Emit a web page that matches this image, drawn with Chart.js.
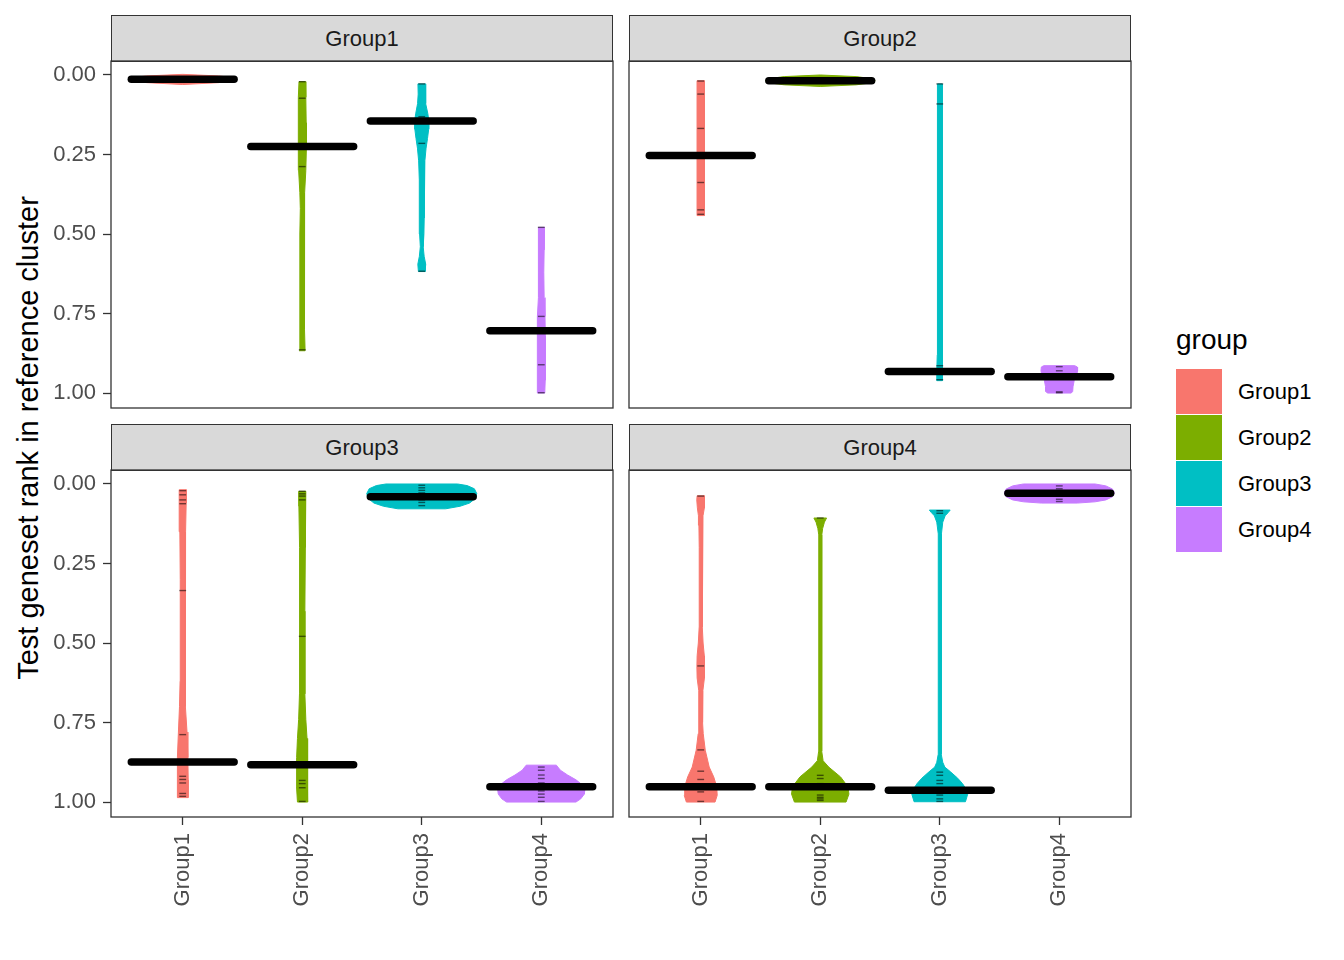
<!DOCTYPE html>
<html>
<head>
<meta charset="utf-8">
<script src="https://cdn.jsdelivr.net/npm/chart.js@4.4.1/dist/chart.umd.min.js"></script>
<style>
html,body{margin:0;padding:0;background:#fff;}
body{position:relative;width:1344px;height:960px;overflow:hidden;font-family:"Liberation Sans",Arial,Helvetica,sans-serif;}
canvas{position:absolute;}
.strip{position:absolute;box-sizing:border-box;background:#D9D9D9;border:1.3px solid #333;color:#1A1A1A;font-size:22px;display:flex;align-items:center;justify-content:center;}
.ytitle{position:absolute;left:28px;top:438px;transform:translate(-50%,-50%) rotate(-90deg);white-space:nowrap;font-size:29px;color:#000;}
.legtitle{position:absolute;left:1176px;top:325px;font-size:28px;line-height:30px;color:#000;}
.key{position:absolute;left:1176px;width:46px;height:45px;}
.keylab{position:absolute;left:1238px;font-size:22px;line-height:46px;height:46px;color:#000;}
</style>
</head>
<body>
<div class="strip" style="left:111px;top:15px;width:502px;height:47px;">Group1</div>
<div class="strip" style="left:629px;top:15px;width:502px;height:47px;">Group2</div>
<div class="strip" style="left:111px;top:424px;width:502px;height:47px;">Group3</div>
<div class="strip" style="left:629px;top:424px;width:502px;height:47px;">Group4</div>
<div class="ytitle">Test geneset rank in reference cluster</div>
<div class="legtitle">group</div>
<div id="legend"></div>
<canvas id="c1" width="638" height="397" style="left:0px;top:36px;"></canvas>
<canvas id="c2" width="552" height="397" style="left:604px;top:36px;"></canvas>
<canvas id="c3" width="638" height="507" style="left:0px;top:445px;"></canvas>
<canvas id="c4" width="552" height="507" style="left:604px;top:445px;"></canvas>
<script>
// ---------------- data ----------------
const groups = ['Group1', 'Group2', 'Group3', 'Group4'];
const groupColors = ['#F8766D', '#7CAE00', '#00BFC4', '#C77CFF'];
const yTickValues = [0, 0.25, 0.5, 0.75, 1];
const xTickValues = [1, 2, 3, 4];

// violin outlines: [rank, half-width in category units]
// facet Group1
const f1g1Outline = [[-0.002,0.0],[0.003,0.3],[0.008,0.42],[0.013,0.45],[0.018,0.42],[0.024,0.3],[0.03,0.0]];
const f1g2Outline = [[0.021,0.027],[0.07,0.03],[0.15,0.033],[0.225,0.035],[0.3,0.03],[0.37,0.02],[0.42,0.016],[0.5,0.019],[0.65,0.02],[0.8,0.021],[0.867,0.024]];
const f1g3Outline = [[0.028,0.032],[0.06,0.03],[0.09,0.035],[0.12,0.05],[0.145,0.06],[0.17,0.058],[0.2,0.048],[0.23,0.036],[0.27,0.026],[0.33,0.021],[0.45,0.02],[0.5,0.018],[0.54,0.012],[0.57,0.02],[0.595,0.033],[0.618,0.028]];
const f1g4Outline = [[0.479,0.027],[0.55,0.024],[0.62,0.021],[0.7,0.024],[0.76,0.031],[0.82,0.034],[0.9,0.034],[0.96,0.032],[1.0,0.029]];
// facet Group2
const f2g1Outline = [[0.018,0.03],[0.1,0.031],[0.2,0.031],[0.3,0.031],[0.4,0.031],[0.442,0.03]];
const f2g2Outline = [[0.0,0.0],[0.005,0.3],[0.011,0.42],[0.018,0.46],[0.025,0.42],[0.031,0.3],[0.036,0.0]];
const f2g3Outline = [[0.028,0.02],[0.1,0.02],[0.3,0.019],[0.5,0.019],[0.7,0.019],[0.88,0.021],[0.93,0.025],[0.961,0.024]];
const f2g4Outline = [[0.914,0.13],[0.918,0.15],[0.93,0.153],[0.945,0.145],[0.96,0.125],[0.98,0.115],[0.995,0.112],[1.0,0.1]];
// facet Group3
const f3g1Outline = [[0.018,0.03],[0.06,0.029],[0.15,0.024],[0.3,0.021],[0.5,0.02],[0.62,0.022],[0.7,0.027],[0.78,0.036],[0.86,0.043],[0.93,0.046],[0.986,0.045]];
const f3g2Outline = [[0.023,0.03],[0.07,0.028],[0.2,0.024],[0.4,0.022],[0.55,0.021],[0.66,0.023],[0.74,0.03],[0.8,0.04],[0.86,0.047],[0.95,0.048],[1.0,0.04]];
const f3g3Outline = [[0.0,0.3],[0.005,0.38],[0.015,0.44],[0.03,0.46],[0.045,0.45],[0.06,0.4],[0.07,0.32],[0.078,0.2]];
const f3g4Outline = [[0.884,0.126],[0.9,0.16],[0.915,0.22],[0.93,0.29],[0.945,0.34],[0.96,0.365],[0.975,0.36],[0.99,0.33],[1.0,0.29]];
// facet Group4
const f4g1Outline = [[0.037,0.03],[0.05,0.033],[0.075,0.028],[0.1,0.019],[0.13,0.015],[0.2,0.013],[0.3,0.012],[0.45,0.013],[0.5,0.02],[0.54,0.03],[0.575,0.032],[0.61,0.03],[0.65,0.018],[0.7,0.015],[0.75,0.016],[0.785,0.021],[0.837,0.038],[0.89,0.071],[0.921,0.109],[0.952,0.134],[0.979,0.138],[1.0,0.12]];
const f4g2Outline = [[0.107,0.053],[0.12,0.035],[0.14,0.02],[0.16,0.013],[0.3,0.012],[0.5,0.012],[0.7,0.012],[0.84,0.013],[0.87,0.024],[0.89,0.071],[0.921,0.17],[0.952,0.232],[0.975,0.24],[1.0,0.216]];
const f4g3Outline = [[0.082,0.087],[0.09,0.07],[0.1,0.045],[0.12,0.025],[0.157,0.014],[0.3,0.012],[0.5,0.012],[0.7,0.012],[0.85,0.013],[0.875,0.025],[0.89,0.042],[0.905,0.09],[0.925,0.15],[0.942,0.19],[0.96,0.222],[0.975,0.234],[0.999,0.215]];
const f4g4Outline = [[0.0,0.3],[0.006,0.39],[0.016,0.445],[0.028,0.46],[0.04,0.445],[0.05,0.39],[0.056,0.3],[0.06,0.15]];

// individual ranks (dash marks)
const f1g1Points = [0.013];
const f1g2Points = [0.021, 0.073, 0.225, 0.288, 0.864];
const f1g3Points = [0.028, 0.131, 0.145, 0.215, 0.617];
const f1g4Points = [0.479, 0.759, 0.804, 0.911, 0.999];
const f2g1Points = [0.019, 0.06, 0.168, 0.253, 0.338, 0.424, 0.438];
const f2g2Points = [0.018];
const f2g3Points = [0.028, 0.091, 0.914, 0.932, 0.958];
const f2g4Points = [0.917, 0.93, 0.949, 0.996, 0.999];
const f3g1Points = [0.021, 0.034, 0.05, 0.062, 0.335, 0.788, 0.874, 0.919, 0.929, 0.94, 0.973, 0.982];
const f3g2Points = [0.023, 0.031, 0.038, 0.05, 0.479, 0.883, 0.932, 0.942, 0.955, 0.998];
const f3g3Points = [0.004, 0.012, 0.02, 0.028, 0.04, 0.05, 0.058, 0.068];
const f3g4Points = [0.89, 0.9, 0.915, 0.926, 0.94, 0.952, 0.965, 0.975, 0.985, 0.998];
const f4g1Points = [0.038, 0.572, 0.836, 0.903, 0.929, 0.952, 0.968, 0.998];
const f4g2Points = [0.107, 0.916, 0.926, 0.942, 0.978, 0.985, 0.99, 0.995];
const f4g3Points = [0.084, 0.092, 0.906, 0.916, 0.932, 0.942, 0.963, 0.978, 0.99, 0.998];
const f4g4Points = [0.006, 0.015, 0.022, 0.029, 0.038, 0.048, 0.055];

// medians per facet (Group1..Group4 test genesets)
const f1Medians = [0.013, 0.225, 0.145, 0.804];
const f2Medians = [0.253, 0.018, 0.932, 0.949];
const f3Medians = [0.874, 0.883, 0.04, 0.952];
const f4Medians = [0.952, 0.952, 0.963, 0.029];

// ---------------- rendering ----------------
const FONT = '"Liberation Sans", Arial, Helvetica, sans-serif';
const facets = [
  {outlines: [f1g1Outline, f1g2Outline, f1g3Outline, f1g4Outline], points: [f1g1Points, f1g2Points, f1g3Points, f1g4Points], medians: f1Medians},
  {outlines: [f2g1Outline, f2g2Outline, f2g3Outline, f2g4Outline], points: [f2g1Points, f2g2Points, f2g3Points, f2g4Points], medians: f2Medians},
  {outlines: [f3g1Outline, f3g2Outline, f3g3Outline, f3g4Outline], points: [f3g1Points, f3g2Points, f3g3Points, f3g4Points], medians: f3Medians},
  {outlines: [f4g1Outline, f4g2Outline, f4g3Outline, f4g4Outline], points: [f4g1Points, f4g2Points, f4g3Points, f4g4Points], medians: f4Medians}
];

function buildDatasets(f) {
  const ds = [];
  f.outlines.forEach((ol, i) => {
    const c = xTickValues[i];
    const right = ol.map(([r, w]) => ({x: c + w, y: r}));
    const left = ol.slice().reverse().map(([r, w]) => ({x: c - w, y: r}));
    const poly = right.concat(left);
    poly.push(right[0]);
    ds.push({data: poly, showLine: true, fill: 'shape', backgroundColor: groupColors[i],
      borderColor: groupColors[i], borderWidth: 1, pointRadius: 0, tension: 0, order: 3});
  });
  f.points.forEach((pts, i) => {
    ds.push({data: pts.map(r => ({x: xTickValues[i], y: r})), showLine: false, fill: false,
      pointStyle: 'line', pointRadius: 3.4, pointBorderWidth: 1.4,
      pointBorderColor: 'rgba(0,0,0,0.55)', pointBackgroundColor: 'rgba(0,0,0,0)', order: 2});
  });
  f.medians.forEach((m, i) => {
    const c = xTickValues[i];
    ds.push({data: [{x: c - 0.43, y: m}, {x: c + 0.43, y: m}], showLine: true, fill: false,
      borderColor: '#000', borderWidth: 7.5, borderCapStyle: 'round', pointRadius: 0, order: 1});
  });
  return ds;
}

const panelBorder = {
  id: 'panelBorder',
  afterDatasetsDraw(chart) {
    const {ctx, chartArea: a} = chart;
    ctx.save();
    ctx.strokeStyle = '#333333';
    ctx.lineWidth = 1.3;
    ctx.strokeRect(a.left, a.top, a.right - a.left, a.bottom - a.top);
    ctx.restore();
  }
};

function makeChart(id, f, showX, showY) {
  const tickGrid = {drawOnChartArea: false, drawTicks: true, tickLength: 8, tickColor: '#333333', tickWidth: 1.3};
  new Chart(document.getElementById(id), {
    type: 'scatter',
    data: {datasets: buildDatasets(f)},
    plugins: [panelBorder],
    options: {
      responsive: false, animation: false, devicePixelRatio: 1, events: [],
      layout: {padding: 25},
      plugins: {legend: {display: false}, tooltip: {enabled: false}},
      scales: {
        x: {
          type: 'linear', position: 'bottom', min: 0.4, max: 4.6, display: showX,
          afterBuildTicks: s => { s.ticks = xTickValues.map(v => ({value: v})); },
          afterFit: s => { s.height = showX ? 110 : 0; },
          grid: tickGrid, border: {display: false},
          ticks: {autoSkip: false, minRotation: 90, maxRotation: 90, padding: 8, color: '#4D4D4D',
            font: {family: FONT, size: 22}, callback: v => groups[v - 1]}
        },
        y: {
          type: 'linear', position: 'left', reverse: true, min: -0.044, max: 1.047, display: showY,
          afterBuildTicks: s => { s.ticks = yTickValues.map(v => ({value: v})); },
          afterFit: s => { s.width = showY ? 86 : 0; },
          grid: tickGrid, border: {display: false},
          ticks: {padding: 7, color: '#4D4D4D', font: {family: FONT, size: 22}, callback: v => Number(v).toFixed(2)}
        }
      }
    }
  });
}

makeChart('c1', facets[0], false, true);
makeChart('c2', facets[1], false, false);
makeChart('c3', facets[2], true, true);
makeChart('c4', facets[3], true, false);

// legend
const leg = document.getElementById('legend');
groups.forEach((g, i) => {
  const k = document.createElement('div');
  k.className = 'key';
  k.style.top = (369 + i * 46) + 'px';
  k.style.background = groupColors[i];
  leg.appendChild(k);
  const l = document.createElement('div');
  l.className = 'keylab';
  l.style.top = (369 + i * 46) + 'px';
  l.textContent = g;
  leg.appendChild(l);
});
</script>
</body>
</html>
